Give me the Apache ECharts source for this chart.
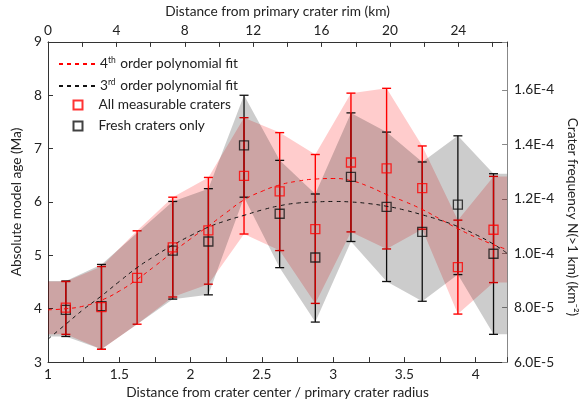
<!DOCTYPE html>
<html>
<head>
<meta charset="utf-8">
<script src="https://cdn.jsdelivr.net/npm/echarts@6/dist/echarts.min.js"></script>
<style>
  html, body { margin: 0; padding: 0; background: #fff; }
  #chart { width: 587px; height: 405px; }
</style>
</head>
<body>
<div id="chart"></div>
<script>
  // bin centres (distance / primary crater radius)
  const binX = [1.125, 1.375, 1.625, 1.875, 2.125, 2.375, 2.625, 2.875, 3.125, 3.375, 3.625, 3.875, 4.125];
  // all measurable craters: model age (Ma) with upper / lower bounds
  const allAge = [4.02, 4.03, 4.58, 5.15, 5.47, 6.49, 6.20, 5.49, 6.74, 6.63, 6.26, 4.78, 5.48];
  const allHi = [4.51, 4.79, 5.46, 6.09, 6.46, 7.58, 7.30, 6.89, 8.04, 8.13, 7.05, 5.66, 6.48];
  const allLo = [3.52, 3.24, 3.71, 4.22, 4.46, 5.40, 5.09, 4.10, 5.44, 5.12, 5.49, 3.90, 4.49];
  // fresh craters only (no bin at 1.625)
  const freshX = [1.125, 1.375, 1.875, 2.125, 2.375, 2.625, 2.875, 3.125, 3.375, 3.625, 3.875, 4.125];
  const freshAge = [3.98, 4.05, 5.09, 5.26, 7.06, 5.78, 4.96, 6.47, 5.91, 5.44, 5.95, 5.03];
  const freshHi = [4.52, 4.83, 6.01, 6.25, 8.00, 6.78, 6.15, 7.67, 7.31, 6.75, 7.24, 6.53];
  const freshLo = [3.48, 3.24, 4.18, 4.26, 6.09, 4.77, 3.75, 5.26, 4.51, 4.14, 4.64, 3.52];
  // polynomial fit curves
  const fitX = [1.0, 1.125, 1.25, 1.375, 1.5, 1.625, 1.75, 1.875, 2.0, 2.125, 2.25, 2.375, 2.5, 2.625,
    2.75, 2.875, 3.0, 3.125, 3.25, 3.375, 3.5, 3.625, 3.75, 3.875, 4.0, 4.125, 4.22];
  const fit4 = [3.98, 4.0, 4.05, 4.16, 4.33, 4.55, 4.8, 5.06, 5.31, 5.55, 5.8, 6.04, 6.2, 6.32,
    6.39, 6.43, 6.44, 6.4, 6.29, 6.14, 6.01, 5.86, 5.68, 5.5, 5.34, 5.2, 5.11];
  const fit3 = [3.43, 3.71, 3.99, 4.24, 4.51, 4.77, 4.99, 5.19, 5.37, 5.53, 5.65, 5.75, 5.85, 5.93,
    5.98, 6.0, 6.01, 6.0, 5.97, 5.92, 5.85, 5.76, 5.66, 5.54, 5.39, 5.21, 5.04];

  const xMin = 1, xMax = 4.22;
  const kmMax = 26.85;
  const font = 'Lato';
  const fs = 13.7;

  const chart = echarts.init(document.getElementById('chart'));

  // shaded band between lower and upper bounds, run flat out to the plot edges
  function bandSeries(xs, lo, hi, color, z) {
    const x = [xMin, ...xs, xMax];
    const l = [lo[0], ...lo, lo[lo.length - 1]];
    const h = [hi[0], ...hi, hi[hi.length - 1]];
    return {
      type: 'custom', z, silent: true,
      data: x.map((v, i) => [v, l[i], h[i]]),
      encode: { x: 0, y: [1, 2] },
      renderItem: (params, api) => {
        if (params.dataIndex !== 0) return null;
        const top = x.map((v, i) => api.coord([v, h[i]]));
        const bot = x.map((v, i) => api.coord([v, l[i]])).reverse();
        return { type: 'polygon', shape: { points: top.concat(bot) }, style: { fill: color } };
      },
    };
  }

  function errorBars(color, width) {
    return function (params, api) {
      const x = api.value(0);
      const pLo = api.coord([x, api.value(1)]);
      const pHi = api.coord([x, api.value(2)]);
      const c = 4.5;
      const st = { stroke: color, lineWidth: width };
      return {
        type: 'group',
        children: [
          { type: 'line', shape: { x1: pLo[0], y1: pLo[1], x2: pHi[0], y2: pHi[1] }, style: st },
          { type: 'line', shape: { x1: pLo[0] - c, y1: pLo[1], x2: pLo[0] + c, y2: pLo[1] }, style: st },
          { type: 'line', shape: { x1: pHi[0] - c, y1: pHi[1], x2: pHi[0] + c, y2: pHi[1] }, style: st },
        ],
      };
    };
  }

  const isStep = (v, s) => Math.abs(v / s - Math.round(v / s)) < 1e-6;
  const axisLine = { lineStyle: { color: '#333', width: 1 } };
  const label = { color: '#222', fontFamily: font, fontSize: fs };
  const nameStyle = { color: '#222', fontFamily: font, fontSize: fs };
  const legendText = {
    fontFamily: font, fontSize: fs, color: '#222', lineHeight: 14,
    rich: { sup: { fontFamily: font, fontSize: 8.5, padding: [0, 1, 7, 0], color: '#222' } },
  };

  const option = {
    animation: false,
    grid: { left: 48, right: 66, top: 41, bottom: 38 },
    legend: [
      {
        left: 58, top: 56, orient: 'vertical', padding: 0,
        itemWidth: 36, itemHeight: 8, itemGap: 7,
        data: [
          { name: '4th order polynomial fit', itemStyle: { opacity: 0 } },
          { name: '3rd order polynomial fit', itemStyle: { opacity: 0 } },
        ],
        formatter: (name) => (name.startsWith('4th')
          ? '4{sup|th} order polynomial fit'
          : '3{sup|rd} order polynomial fit'),
        textStyle: legendText,
      },
      {
        left: 72.5, top: 98, orient: 'vertical', padding: 0,
        itemWidth: 9, itemHeight: 9, itemGap: 7,
        data: ['All measurable craters', 'Fresh craters only'],
        textStyle: { ...legendText, padding: [0, 0, 0, 11] },
      },
    ],
    xAxis: [
      {
        type: 'value', min: xMin, max: xMax, interval: 0.25, position: 'bottom',
        name: 'Distance from crater center / primary crater radius',
        nameLocation: 'middle', nameGap: 20, nameTextStyle: nameStyle,
        axisLine, splitLine: { show: false },
        axisTick: { inside: true, length: 5, lineStyle: { color: '#333' } },
        axisLabel: { ...label, margin: 5, formatter: (v) => (isStep(v, 0.5) ? String(v) : '') },
      },
      {
        type: 'value', min: 0, max: kmMax, interval: 2, position: 'top',
        name: 'Distance from primary crater rim (km)',
        nameLocation: 'middle', nameGap: 22, nameTextStyle: nameStyle,
        axisLine, splitLine: { show: false },
        axisTick: { inside: true, length: 5, lineStyle: { color: '#333' } },
        axisLabel: { ...label, margin: 4, formatter: (v) => (isStep(v, 4) ? String(v) : '') },
      },
    ],
    yAxis: [
      {
        type: 'value', min: 3, max: 9, interval: 1, position: 'left',
        name: 'Absolute model age (Ma)',
        nameLocation: 'middle', nameGap: 22, nameTextStyle: nameStyle,
        axisLine: { show: true, lineStyle: { color: '#333' } }, splitLine: { show: false },
        axisTick: { show: true, inside: true, length: 5, lineStyle: { color: '#333' } },
        axisLabel: { ...label, margin: 6 },
      },
      {
        type: 'value', min: 6e-5, max: 1.777e-4, interval: 2e-5, position: 'right',
        name: 'Crater frequency N(>1 km) (km⁻²)',
        nameLocation: 'middle', nameGap: 50, nameRotate: -90,
        nameTextStyle: { ...nameStyle, padding: [0, 0, 0, 30] },
        axisLine: { show: true, lineStyle: { color: '#888' } }, splitLine: { show: false },
        axisTick: { show: true, inside: true, length: 5, lineStyle: { color: '#888' } },
        axisLabel: {
          ...label, margin: 7,
          formatter: (v) => (isStep(v, 2e-5) ? v.toExponential(1).toUpperCase() : ''),
        },
      },
    ],
    series: [
      bandSeries(binX, allLo, allHi, 'rgba(255,0,0,0.2)', 1),
      // error bars
      {
        type: 'custom', z: 2, silent: true,
        data: freshX.map((x, i) => [x, freshLo[i], freshHi[i]]),
        encode: { x: 0, y: [1, 2] },
        renderItem: errorBars('#111', 1.3),
      },
      {
        type: 'custom', z: 3, silent: true,
        data: binX.map((x, i) => [x, allLo[i], allHi[i]]),
        encode: { x: 0, y: [1, 2] },
        renderItem: errorBars('#f00', 1.4),
      },
      bandSeries(freshX, freshLo, freshHi, 'rgba(0,0,0,0.2)', 4),
      // fits
      {
        name: '4th order polynomial fit', type: 'line', z: 5, symbol: 'none', smooth: true,
        data: fitX.map((x, i) => [x, fit4[i]]),
        lineStyle: { color: '#f00', width: 1, type: [4, 4] }, itemStyle: { color: '#f00' },
      },
      {
        name: '3rd order polynomial fit', type: 'line', z: 5, symbol: 'none', smooth: true,
        data: fitX.map((x, i) => [x, fit3[i]]),
        lineStyle: { color: '#111', width: 1, type: [4, 4] }, itemStyle: { color: '#111' },
      },
      // markers
      {
        name: 'Fresh craters only', type: 'scatter', z: 6, symbol: 'rect', symbolSize: 9,
        data: freshX.map((x, i) => [x, freshAge[i]]),
        itemStyle: { color: 'rgba(0,0,0,0)', borderColor: '#111', borderWidth: 1.3 },
      },
      {
        name: 'All measurable craters', type: 'scatter', z: 7, symbol: 'rect', symbolSize: 9,
        data: binX.map((x, i) => [x, allAge[i]]),
        itemStyle: { color: 'rgba(0,0,0,0)', borderColor: '#f00', borderWidth: 1.3 },
      },
    ],
  };

  chart.setOption(option);
</script>
</body>
</html>
